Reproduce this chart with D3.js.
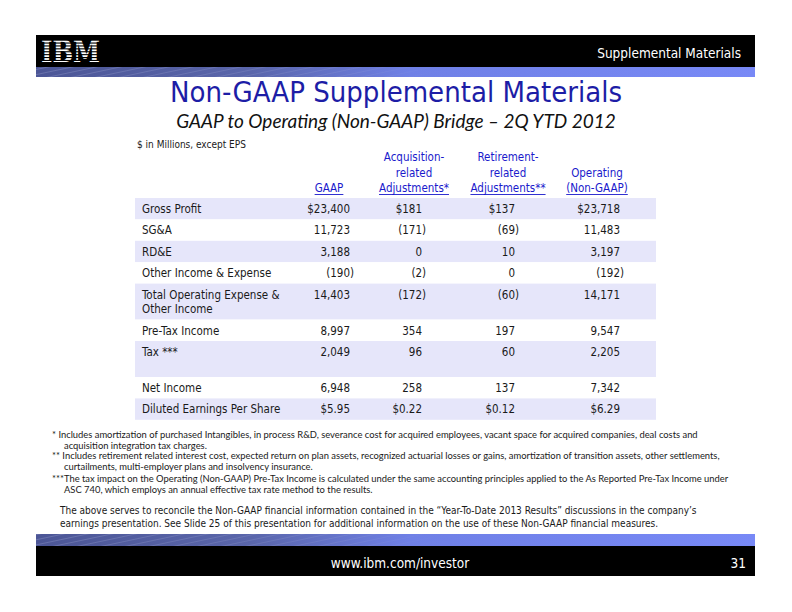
<!DOCTYPE html>
<html>
<head>
<meta charset="utf-8">
<script src="https://cdn.jsdelivr.net/npm/d3@7"></script>
<style>
  html, body { margin: 0; padding: 0; background: #fff; }
  svg { display: block; }
</style>
</head>
<body>
<script>
// ---------- DATA ----------
const rowLabels = [
  "Gross Profit",
  "SG&A",
  "RD&E",
  "Other Income & Expense",
  "Total Operating Expense &\nOther Income",
  "Pre-Tax Income",
  "Tax ***\n",
  "Net Income",
  "Diluted Earnings Per Share"
];
const gaap        = [23400, 11723, 3188, -190, 14403, 8997, 2049, 6948, 5.95];
const acquisition = [181, -171, 0, -2, -172, 354, 96, 258, 0.22];
const retirement  = [137, -69, 10, 0, -60, 197, 60, 137, 0.12];
const operating   = [23718, 11483, 3197, -192, 14171, 9547, 2205, 7342, 6.29];
const columnKeys = ["gaap", "acquisition", "retirement", "operating"];
const columnHeaders = [
  ["GAAP"],
  ["Acquisition-", "related", "Adjustments*"],
  ["Retirement-", "related", "Adjustments**"],
  ["Operating", "(Non-GAAP)"]
];
const dollarRows = ["Gross Profit", "Diluted Earnings Per Share"];
const perShareRows = ["Diluted Earnings Per Share"];

const headerRight = "Supplemental Materials";
const title = "Non-GAAP Supplemental Materials";
const subtitle = "GAAP to Operating (Non-GAAP) Bridge \u2013 2Q YTD 2012";
const unitsNote = "$ in Millions, except EPS";
const footnotes = [
  ["*  Includes amortization of purchased Intangibles, in process R&D, severance cost for acquired employees, vacant space for acquired companies, deal costs and",
   "acquisition integration tax charges."],
  ["** Includes retirement related interest cost, expected return on plan assets, recognized actuarial losses or gains, amortization of transition assets, other settlements,",
   "curtailments, multi-employer plans and insolvency insurance."],
  ["***The tax impact on the Operating (Non-GAAP) Pre-Tax Income is calculated under the same accounting principles applied to the As Reported Pre-Tax Income under",
   "ASC 740, which employs an annual effective tax rate method to the results."]
];
const paragraph = [
  "The above serves to reconcile the Non-GAAP financial information contained in the \u201CYear-To-Date 2013 Results\u201D discussions in the company\u2019s",
  "earnings presentation. See Slide 25 of this presentation for additional information on the use of these Non-GAAP financial measures."
];
const footerUrl = "www.ibm.com/investor";
const pageNumber = "31";

// ---------- LAYOUT ----------
const W = 792, H = 612;
const tahoma = "'DejaVu Sans Condensed', 'DejaVu Sans', sans-serif";
const calibri = "Lato, 'Open Sans', sans-serif";
const textColor = "#1a1a1a";
const headBlue = "#1a1acc";
const band = "#e6e6fa";

const svg = d3.select("body").append("svg")
  .attr("width", W).attr("height", H)
  .attr("viewBox", `0 0 ${W} ${H}`);

svg.append("rect").attr("width", W).attr("height", H).attr("fill", "#fff");

const defs = svg.append("defs");
const grad = defs.append("linearGradient").attr("id", "stripe")
  .attr("x1", "0%").attr("x2", "100%").attr("y1", "0%").attr("y2", "0%");
grad.append("stop").attr("offset", "0%").attr("stop-color", "#4c5696");
grad.append("stop").attr("offset", "30%").attr("stop-color", "#5a66ab");
grad.append("stop").attr("offset", "52%").attr("stop-color", "#6f80e6");
grad.append("stop").attr("offset", "100%").attr("stop-color", "#7889f6");

const pat = defs.append("pattern").attr("id", "streaks")
  .attr("patternUnits", "userSpaceOnUse").attr("width", 18).attr("height", 5)
  .attr("patternTransform", "rotate(-12)");
pat.append("rect").attr("x", 0).attr("y", 0).attr("width", 18).attr("height", 1)
  .attr("fill", "#a9b1dc").attr("opacity", 0.3);
const fade = defs.append("linearGradient").attr("id", "fadeG")
  .attr("x1", "0%").attr("x2", "100%");
fade.append("stop").attr("offset", "0%").attr("stop-color", "#fff").attr("stop-opacity", 1);
fade.append("stop").attr("offset", "45%").attr("stop-color", "#fff").attr("stop-opacity", 0.5);
fade.append("stop").attr("offset", "58%").attr("stop-color", "#fff").attr("stop-opacity", 0);
const mask = defs.append("mask").attr("id", "fadeM").attr("maskContentUnits", "userSpaceOnUse");
mask.append("rect").attr("x", 36).attr("y", 0).attr("width", 719).attr("height", H).attr("fill", "url(#fadeG)");

function stripeBar(y, h) {
  svg.append("rect").attr("x", 36).attr("y", y).attr("width", 719).attr("height", h)
    .attr("fill", "url(#stripe)");
  svg.append("rect").attr("x", 36).attr("y", y).attr("width", 719).attr("height", h)
    .attr("fill", "url(#streaks)").attr("mask", "url(#fadeM)");
}

// Header
svg.append("rect").attr("x", 36).attr("y", 35).attr("width", 719).attr("height", 32).attr("fill", "#000");
stripeBar(67, 10);

// IBM logo (striped)
svg.append("text").attr("x", 41).attr("y", 62)
  .attr("font-family", "'DejaVu Serif', 'Liberation Serif', serif")
  .attr("font-weight", "bold").attr("font-size", 30)
  .attr("textLength", 59).attr("lengthAdjust", "spacingAndGlyphs")
  .attr("fill", "#fff").text("IBM");
d3.range(39.6, 62, 2.9).forEach(y => {
  svg.append("rect").attr("x", 39).attr("y", y).attr("width", 64).attr("height", 1.1).attr("fill", "#000");
});

svg.append("text").attr("x", 741).attr("y", 58).attr("text-anchor", "end")
  .attr("font-family", tahoma).attr("font-size", 13.5).attr("fill", "#fff").text(headerRight);

// Title
svg.append("text").attr("x", 396).attr("y", 101.5).attr("text-anchor", "middle")
  .attr("font-family", tahoma).attr("font-size", 29).attr("fill", "#1d1da6").text(title);
svg.append("text").attr("x", 396).attr("y", 127.5).attr("text-anchor", "middle")
  .attr("font-family", calibri).attr("font-style", "italic").attr("font-size", 19)
  .attr("fill", "#111").text(subtitle);

svg.append("text").attr("x", 137).attr("y", 148)
  .attr("font-family", tahoma).attr("font-size", 10).attr("fill", textColor).text(unitsNote);

// ---------- TABLE ----------
const colRight = d3.scaleOrdinal().domain(columnKeys).range([350, 422, 515, 620]);
const colCenter = d3.scaleOrdinal().domain(columnKeys).range([329, 414, 508, 597]);
const series = { gaap, acquisition, retirement, operating };

const tableFont = 11.5;
const headerBaseline = 192, headerLineH = 15.5;
columnHeaders.forEach((lines, i) => {
  const key = columnKeys[i];
  lines.forEach((ln, j) => {
    const y = headerBaseline - (lines.length - 1 - j) * headerLineH;
    const t = svg.append("text").attr("x", colCenter(key)).attr("y", y)
      .attr("text-anchor", "middle").attr("font-family", tahoma)
      .attr("font-size", tableFont).attr("fill", headBlue).text(ln);
    if (j === lines.length - 1) {
      const w = t.node().getComputedTextLength();
      svg.append("line").attr("x1", colCenter(key) - w / 2).attr("x2", colCenter(key) + w / 2)
        .attr("y1", y + 2.5).attr("y2", y + 2.5).attr("stroke", headBlue).attr("stroke-width", 0.9);
    }
  });
});

// Row geometry
const tableLeft = 135, tableRight = 656, tableTop = 198;
const singleH = 21.4, extraLineH = 14.6;
const rows = rowLabels.map((label, i) => ({
  label, i, lines: label.split("\n")
}));
let yCursor = tableTop;
rows.forEach(r => {
  r.y = yCursor;
  r.h = singleH + (r.lines.length - 1) * extraLineH;
  yCursor += r.h;
});

const fmtInt = d3.format(",");
const fmtDec = d3.format(".2f");
function fmtValue(v, label) {
  const perShare = perShareRows.includes(label);
  const dollar = dollarRows.includes(label);
  const body = perShare ? fmtDec(Math.abs(v)) : fmtInt(Math.abs(v));
  const s = (dollar ? "$" : "") + body;
  return v < 0 ? { main: "(" + s, close: ")" } : { main: s, close: "" };
}

const rowG = svg.append("g").selectAll("g").data(rows).join("g");
rowG.append("rect")
  .attr("x", tableLeft).attr("y", d => d.y)
  .attr("width", tableRight - tableLeft).attr("height", d => d.h)
  .attr("fill", d => d.i % 2 === 0 ? band : "#fff");

rowG.each(function(d) {
  const g = d3.select(this);
  const base = d.y + 15;
  d.lines.forEach((ln, j) => {
    g.append("text").attr("x", 142).attr("y", base + j * extraLineH)
      .attr("font-family", tahoma).attr("font-size", tableFont).attr("fill", textColor)
      .text(ln);
  });
  columnKeys.forEach(key => {
    const f = fmtValue(series[key][d.i], d.label);
    g.append("text").attr("x", colRight(key)).attr("y", base)
      .attr("text-anchor", "end").attr("font-family", tahoma)
      .attr("font-size", tableFont).attr("fill", textColor).text(f.main);
    if (f.close) {
      g.append("text").attr("x", colRight(key)).attr("y", base)
        .attr("font-family", tahoma).attr("font-size", tableFont)
        .attr("fill", textColor).text(f.close);
    }
  });
});

// ---------- FOOTNOTES ----------
const fnStarts = [438, 459, 482];
footnotes.forEach((lines, i) => {
  lines.forEach((ln, j) => {
    svg.append("text").attr("x", j === 0 ? 52 : 64).attr("y", fnStarts[i] + j * 10.8)
      .attr("font-family", calibri).attr("font-size", 9.4).attr("fill", textColor).text(ln);
  });
});

paragraph.forEach((ln, j) => {
  svg.append("text").attr("x", 60).attr("y", 514 + j * 12.5)
    .attr("font-family", tahoma).attr("font-size", 10).attr("fill", textColor).text(ln);
});

// ---------- FOOTER ----------
stripeBar(534, 12);
svg.append("rect").attr("x", 36).attr("y", 546).attr("width", 719).attr("height", 30).attr("fill", "#000");
svg.append("text").attr("x", 400).attr("y", 568).attr("text-anchor", "middle")
  .attr("font-family", tahoma).attr("font-size", 13.5).attr("fill", "#fff").text(footerUrl);
svg.append("text").attr("x", 746).attr("y", 568).attr("text-anchor", "end")
  .attr("font-family", tahoma).attr("font-size", 13.5).attr("fill", "#fff").text(pageNumber);
</script>
</body>
</html>
